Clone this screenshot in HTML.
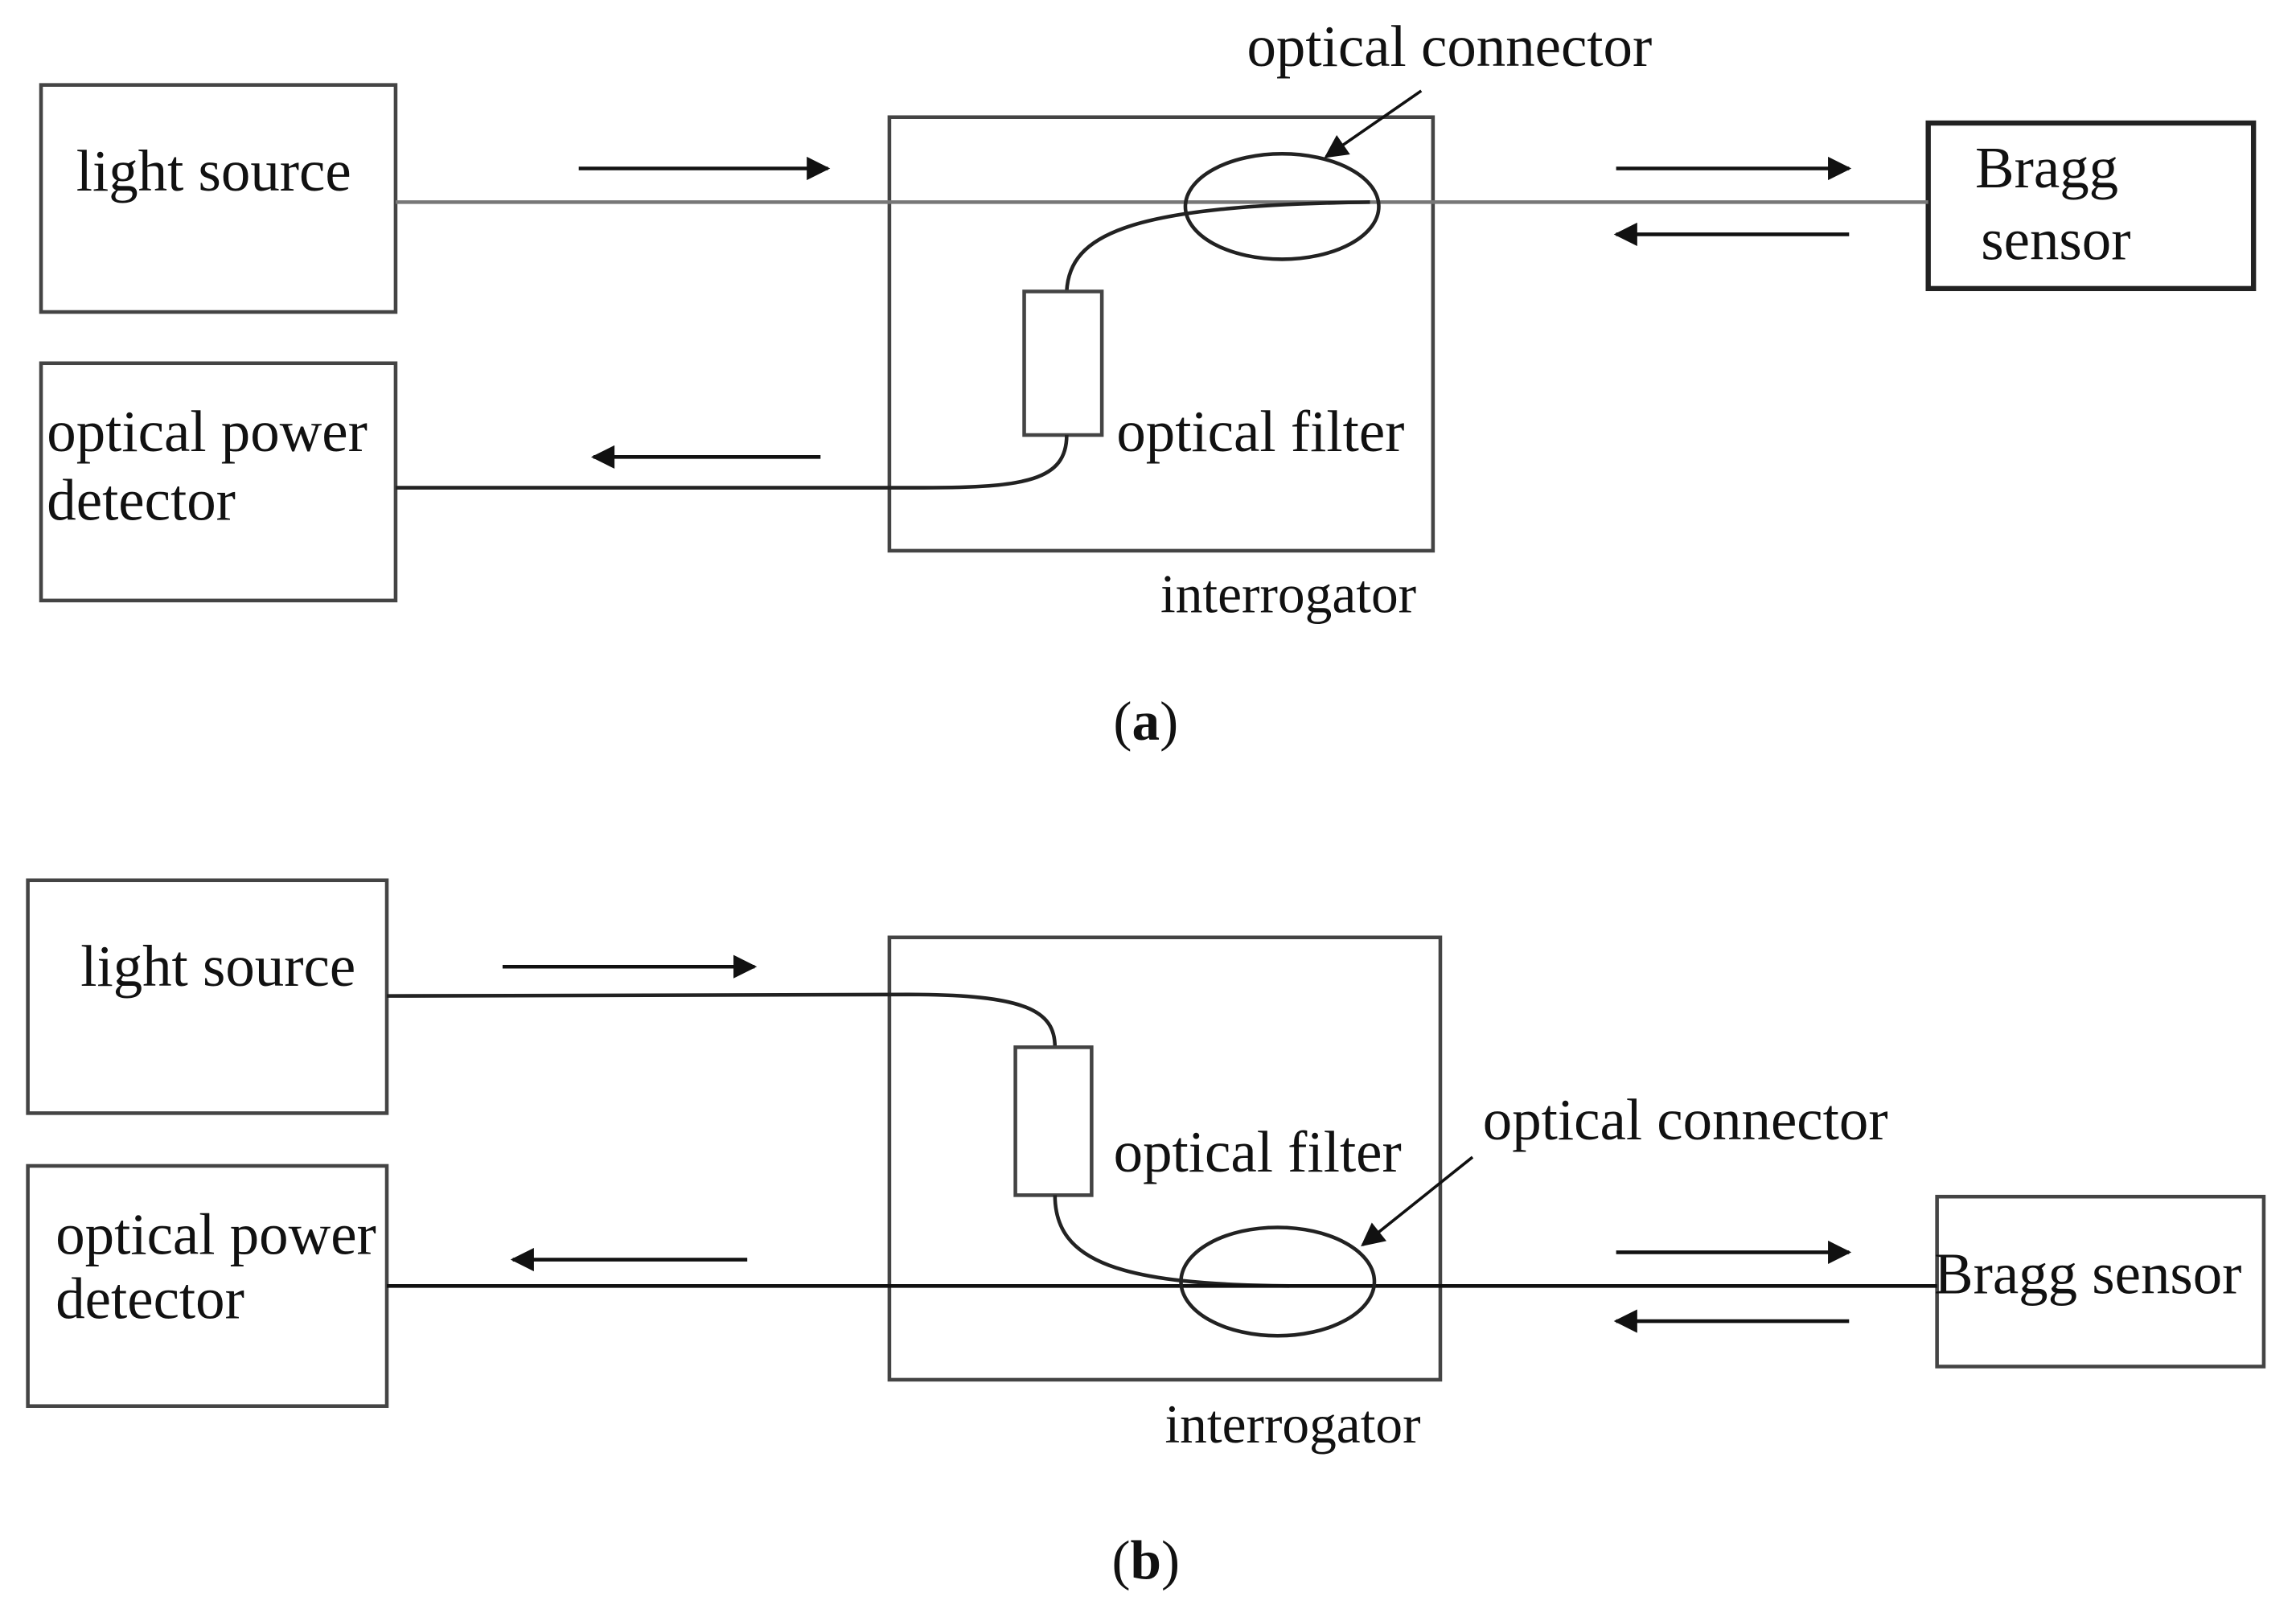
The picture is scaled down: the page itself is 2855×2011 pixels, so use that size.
<!DOCTYPE html>
<html><head><meta charset="utf-8"><style>
html,body{margin:0;padding:0;background:#fff;}
svg{display:block;}
text{font-family:"Liberation Serif",serif;fill:#111;}
</style></head><body>
<svg width="2855" height="2011" viewBox="0 0 1567 1104" preserveAspectRatio="none" xmlns="http://www.w3.org/2000/svg">
<defs>
<marker id="ah2" viewBox="0 0 10 10" refX="9" refY="5" markerWidth="20" markerHeight="16" orient="auto" markerUnits="userSpaceOnUse">
<path d="M0,0 L10,5 L0,10 z" fill="#111"/></marker>
</defs>
<g fill="none" stroke="#444" stroke-width="2.5">
<rect x="28" y="58" width="242" height="155"/>
<rect x="28" y="248" width="242" height="162"/>
<rect x="607" y="80" width="371" height="296"/>
<rect x="1316" y="84" width="222" height="113" stroke="#222" stroke-width="3.5"/>
<line x1="270" y1="138" x2="1316" y2="138" stroke="#777"/>
<ellipse cx="875" cy="141" rx="66" ry="36" stroke="#222"/>
<path d="M935,138 C770,140 730,160 728,199" stroke="#222"/>
<rect x="699" y="199" width="53" height="98"/>
<path d="M728,297 C728,328 700,333 630,333 L270,333" stroke="#222"/>
<rect x="19" y="601" width="245" height="159"/>
<rect x="19" y="796" width="245" height="164"/>
<rect x="607" y="640" width="376" height="302"/>
<rect x="1322" y="817" width="223" height="116"/>
<path d="M264,680 L620,679 C700,679 720,690 720,715" stroke="#222"/>
<rect x="693" y="715" width="52" height="101"/>
<path d="M720,816 C720,862 765,877 880,878" stroke="#222"/>
<line x1="264" y1="878" x2="1322" y2="878" stroke="#111"/>
<ellipse cx="872" cy="875" rx="66" ry="37" stroke="#222"/>
</g>
<g stroke="#111" stroke-width="2.5">
<line x1="395" y1="115" x2="565" y2="115" marker-end="url(#ah2)"/>
<line x1="560" y1="312" x2="405" y2="312" marker-end="url(#ah2)"/>
<line x1="1103" y1="115" x2="1262" y2="115" marker-end="url(#ah2)"/>
<line x1="1262" y1="160" x2="1103" y2="160" marker-end="url(#ah2)"/>
<line x1="970" y1="62" x2="905" y2="107" marker-end="url(#ah2)" stroke-width="2"/>
<line x1="343" y1="660" x2="515" y2="660" marker-end="url(#ah2)"/>
<line x1="510" y1="860" x2="350" y2="860" marker-end="url(#ah2)"/>
<line x1="1103" y1="855" x2="1262" y2="855" marker-end="url(#ah2)"/>
<line x1="1262" y1="902" x2="1103" y2="902" marker-end="url(#ah2)"/>
<line x1="1005" y1="790" x2="930" y2="850" marker-end="url(#ah2)" stroke-width="2"/>
</g>
<g font-size="40">
<text x="52" y="130">light source</text>
<text x="32" y="308">optical power</text>
<text x="32" y="355">detector</text>
<text x="1348" y="128">Bragg</text>
<text x="1352" y="177">sensor</text>
<text x="851" y="45">optical connector</text>
<text x="762" y="308">optical filter</text>
<text x="792" y="418" font-size="37">interrogator</text>
<text x="782" y="505" text-anchor="middle" font-size="38">(<tspan font-weight="bold">a</tspan>)</text>
<text x="55" y="673">light source</text>
<text x="38" y="856">optical power</text>
<text x="38" y="900">detector</text>
<text x="1320" y="883">Bragg sensor</text>
<text x="1012" y="778">optical connector</text>
<text x="760" y="800">optical filter</text>
<text x="795" y="985" font-size="37">interrogator</text>
<text x="782" y="1078" text-anchor="middle" font-size="38">(<tspan font-weight="bold">b</tspan>)</text>
</g>
</svg>
</body></html>
